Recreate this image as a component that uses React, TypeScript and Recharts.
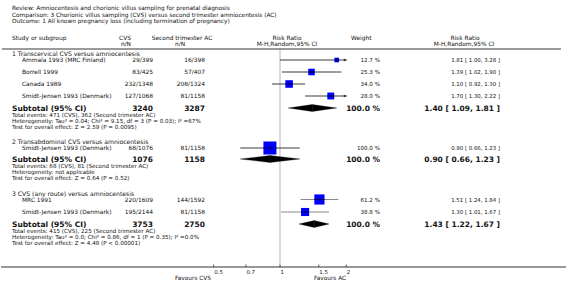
import React from 'react';
import { ScatterChart, Scatter, XAxis, YAxis, ReferenceLine } from 'recharts';

// ---------------- data ----------------
const TITLE_LINES = [
  'Review:  Amniocentesis and chorionic villus sampling for prenatal diagnosis',
  'Comparison:  3 Chorionic villus sampling (CVS) versus second trimester amniocentesis (AC)',
  'Outcome:  1 All known pregnancy loss (including termination of pregnancy)',
];
const GROUP_TITLES = [
  '1 Transcervical CVS versus amniocentesis',
  '2 Transabdominal CVS versus amniocentesis',
  '3 CVS (any route) versus amniocentesis',
];
const STUDY_NAMES = [
  'Ammala 1993 (MRC Finland)',
  'Borrell 1999',
  'Canada 1989',
  'Smidt-Jensen 1993 (Denmark)',
  'Smidt-Jensen 1993 (Denmark)',
  'MRC 1991',
  'Smidt-Jensen 1993 (Denmark)',
];
const STUDY_GROUP = [0, 0, 0, 0, 1, 2, 2];
const CVS_EVENTS = ['29/399', '83/425', '232/1348', '127/1068', '68/1076', '220/1609', '195/2144'];
const AC_EVENTS = ['16/398', '57/407', '208/1324', '81/1158', '81/1158', '144/1592', '81/1158'];
const STUDY_WEIGHT = [12.7, 25.3, 34.0, 28.0, 100.0, 61.2, 38.8];
const STUDY_RR = [1.81, 1.39, 1.1, 1.7, 0.9, 1.51, 1.3];
const STUDY_LOW = [1.0, 1.02, 0.92, 1.3, 0.66, 1.24, 1.01];
const STUDY_HIGH = [3.28, 1.9, 1.3, 2.22, 1.23, 1.84, 1.67];

const SUB_CVS_TOTAL = [3240, 1076, 3753];
const SUB_AC_TOTAL = [3287, 1158, 2750];
const SUB_WEIGHT = [100.0, 100.0, 100.0];
const SUB_RR = [1.4, 0.9, 1.43];
const SUB_LOW = [1.09, 0.66, 1.22];
const SUB_HIGH = [1.81, 1.23, 1.67];
const TOTAL_EVENTS = [
  'Total events: 471 (CVS), 362 (Second trimester AC)',
  'Total events: 68 (CVS), 81 (Second trimester AC)',
  'Total events: 415 (CVS), 225 (Second trimester AC)',
];
const HETEROGENEITY = [
  'Heterogeneity: Tau\u00B2 = 0.04; Chi\u00B2 = 9.15, df = 3 (P = 0.03); I\u00B2 =67%',
  'Heterogeneity: not applicable',
  'Heterogeneity: Tau\u00B2 = 0.0; Chi\u00B2 = 0.86, df = 1 (P = 0.35); I\u00B2 =0.0%',
];
const OVERALL_EFFECT = [
  'Test for overall effect: Z = 2.59 (P = 0.0095)',
  'Test for overall effect: Z = 0.64 (P = 0.52)',
  'Test for overall effect: Z = 4.48 (P < 0.00001)',
];
const X_TICKS = [0.5, 0.7, 1, 1.5, 2];
const X_DOMAIN = [0.5, 2];
const FAVOURS = ['Favours CVS', 'Favours AC'];

// ---------------- layout ----------------
const W = 566;
const H = 297;
const PLOT_LEFT = 213.7;
const PLOT_RIGHT = 346.3;
const PLOT_TOP = 48;
const AXIS_Y = 267;
const STUDY_Y = [60, 72, 84, 96, 148, 199.5, 212];
const SUB_Y = [108, 159, 224];
const TITLE_Y = [8, 14.5, 21];
const GROUP_LINE_COLOR = ['#3a3a3a', '#3a3a3a', '#8a8a8a'];
const FONT = '"DejaVu Sans", Verdana, sans-serif';
const FS = 5.9;
const FS_STAT = 5.6;
const FS_BOLD = 7.5;
const X_TEXT = 12;
const X_STUDY = 22;
const X_CVS = 153;
const X_AC = 205;
const X_WEIGHT = 380;
const X_CI = 500;

const fmtCI = (rr: number, lo: number, hi: number) =>
  `${rr.toFixed(2)} [ ${lo.toFixed(2)}, ${hi.toFixed(2)} ]`;
const fmtW = (w: number) => `${w.toFixed(1)} %`;

const studyData = STUDY_NAMES.map((_, i) => ({
  rr: STUDY_RR[i],
  y: STUDY_Y[i],
  w: STUDY_WEIGHT[i],
}));

const Square = (props: any) => {
  const { cx, cy, payload } = props;
  const s = 1.3 * Math.sqrt(payload.w);
  return (
    <g>
      <rect x={cx - s / 2} y={cy - s / 2} width={s} height={s} fill="#0000ff" />
      <line x1={cx - s / 2} x2={cx + s / 2} y1={cy} y2={cy} stroke="#000" strokeWidth={0.6} />
      <line x1={cx} x2={cx} y1={cy - 1.5} y2={cy + 1.5} stroke="#000" strokeWidth={0.6} />
    </g>
  );
};

const ciShape = (color: string, arrowRight: boolean, arrowLeft: boolean) => (p: any) => {
  const { x1, y1, x2, y2 } = p;
  return (
    <g>
      <line x1={x1} y1={y1} x2={x2} y2={y2} stroke={color} strokeWidth={1} />
      {arrowRight && (
        <path d={`M${x2 + 1},${y2} L${x2 - 2.5},${y2 - 1.6} L${x2 - 2.5},${y2 + 1.6} Z`} fill={color} />
      )}
      {arrowLeft && (
        <path d={`M${x1 - 1},${y1} L${x1 + 2.5},${y1 - 1.6} L${x1 + 2.5},${y1 + 1.6} Z`} fill={color} />
      )}
    </g>
  );
};

const halfDiamond = (side: 'left' | 'right') => (p: any) => {
  const { x1, y1, x2 } = p;
  const h = 3.5;
  const d =
    side === 'left'
      ? `M${x1},${y1} L${x2},${y1 - h} L${x2},${y1 + h} Z`
      : `M${x1},${y1 - h} L${x2},${y1} L${x1},${y1 + h} Z`;
  return <path d={d} fill="#000" stroke="#000" strokeWidth={0.3} />;
};

const AxisTick = (props: any) => {
  const { x, y, payload } = props;
  return (
    <g>
      <line x1={x} x2={x} y1={y - 2.5} y2={y} stroke="#333" strokeWidth={0.8} />
      <text x={x + 0.5} y={y + 5} fontSize={5.5} fontFamily={FONT} fill="#222" textAnchor="start" dominantBaseline="central">
        {String(payload.value)}
      </text>
    </g>
  );
};

const T = (props: any) => {
  const { x, y, children, anchor = 'start', size = FS, bold = false } = props;
  return (
    <text
      x={x}
      y={y}
      fontSize={size}
      fontWeight={bold ? 'bold' : 'normal'}
      fontFamily={FONT}
      fill="#111"
      textAnchor={anchor}
      dominantBaseline="central"
    >
      {children}
    </text>
  );
};

export default function App() {
  return (
    <div style={{ position: 'absolute', left: 0, top: 0, width: W, height: H, background: '#fff' }}>
      <ScatterChart
        width={W}
        height={H}
        margin={{ top: PLOT_TOP, right: W - PLOT_RIGHT, bottom: 0, left: PLOT_LEFT }}
      >
        <XAxis
          type="number"
          dataKey="rr"
          scale="log"
          domain={X_DOMAIN}
          ticks={X_TICKS}
          allowDataOverflow
          interval={0}
          axisLine={false}
          tickLine={false}
          tickSize={0}
          tickMargin={0}
          height={H - AXIS_Y}
          tick={(p: any) => <AxisTick {...p} />}
        />
        <YAxis type="number" dataKey="y" domain={[PLOT_TOP, AXIS_Y]} reversed hide allowDataOverflow />
        <ReferenceLine x={1} stroke="#d2d2d2" strokeWidth={1.6} ifOverflow="visible" />
        {STUDY_NAMES.map((_, i) => (
          <ReferenceLine
            key={'ci' + i}
            ifOverflow="visible"
            segment={[
              { x: Math.max(STUDY_LOW[i], X_DOMAIN[0]), y: STUDY_Y[i] },
              { x: Math.min(STUDY_HIGH[i], X_DOMAIN[1]), y: STUDY_Y[i] },
            ]}
            shape={ciShape(
              GROUP_LINE_COLOR[STUDY_GROUP[i]],
              STUDY_HIGH[i] > X_DOMAIN[1],
              STUDY_LOW[i] < X_DOMAIN[0]
            )}
          />
        ))}
        {SUB_RR.map((rr, g) => (
          <ReferenceLine
            key={'dl' + g}
            ifOverflow="visible"
            segment={[
              { x: SUB_LOW[g], y: SUB_Y[g] },
              { x: rr, y: SUB_Y[g] },
            ]}
            shape={halfDiamond('left')}
          />
        ))}
        {SUB_RR.map((rr, g) => (
          <ReferenceLine
            key={'dr' + g}
            ifOverflow="visible"
            segment={[
              { x: rr, y: SUB_Y[g] },
              { x: SUB_HIGH[g], y: SUB_Y[g] },
            ]}
            shape={halfDiamond('right')}
          />
        ))}
        <Scatter data={studyData} isAnimationActive={false} shape={(p: any) => <Square {...p} />} />
      </ScatterChart>

      <svg
        width={W}
        height={H}
        style={{ position: 'absolute', left: 0, top: 0, pointerEvents: 'none' }}
      >
        {TITLE_LINES.map((t, i) => (
          <T key={'tl' + i} x={X_TEXT} y={TITLE_Y[i]} size={5.8}>
            {t}
          </T>
        ))}
        <T x={X_TEXT} y={37.5}>Study or subgroup</T>
        <T x={131} y={37.5} anchor="end">CVS</T>
        <T x={131} y={43.5} anchor="end">n/N</T>
        <T x={182} y={37.5} anchor="middle">Second trimester AC</T>
        <T x={180} y={43.5} anchor="middle">n/N</T>
        <T x={287} y={37.5} anchor="middle">Risk Ratio</T>
        <T x={287} y={43.5} anchor="middle">M-H,Random,95% CI</T>
        <T x={351} y={37.5}>Weight</T>
        <T x={465} y={37.5} anchor="middle">Risk Ratio</T>
        <T x={464} y={43.5} anchor="middle">M-H,Random,95% CI</T>
        <line x1={2} x2={561} y1={49} y2={49} stroke="#7a7a7a" strokeWidth={1.6} />

        {GROUP_TITLES.map((t, g) => {
          const firstIdx = STUDY_GROUP.indexOf(g);
          return (
            <T key={'gt' + g} x={X_TEXT} y={STUDY_Y[firstIdx] - 6.3} size={6.1}>
              {t}
            </T>
          );
        })}

        {STUDY_NAMES.map((n, i) => (
          <g key={'row' + i}>
            <T x={X_STUDY} y={STUDY_Y[i]}>{n}</T>
            <T x={X_CVS} y={STUDY_Y[i]} anchor="end">{CVS_EVENTS[i]}</T>
            <T x={X_AC} y={STUDY_Y[i]} anchor="end">{AC_EVENTS[i]}</T>
            <T x={X_WEIGHT} y={STUDY_Y[i]} anchor="end" size={5.6}>{fmtW(STUDY_WEIGHT[i])}</T>
            <T x={X_CI} y={STUDY_Y[i]} anchor="end" size={5.4}>
              {fmtCI(STUDY_RR[i], STUDY_LOW[i], STUDY_HIGH[i])}
            </T>
          </g>
        ))}

        {SUB_RR.map((rr, g) => (
          <g key={'sub' + g}>
            <T x={X_TEXT} y={SUB_Y[g]} bold size={FS_BOLD}>Subtotal (95% CI)</T>
            <T x={X_CVS} y={SUB_Y[g]} anchor="end" bold size={FS_BOLD}>{SUB_CVS_TOTAL[g]}</T>
            <T x={X_AC} y={SUB_Y[g]} anchor="end" bold size={FS_BOLD}>{SUB_AC_TOTAL[g]}</T>
            <T x={X_WEIGHT} y={SUB_Y[g]} anchor="end" bold size={FS_BOLD}>{fmtW(SUB_WEIGHT[g])}</T>
            <T x={X_CI} y={SUB_Y[g]} anchor="end" bold size={FS_BOLD}>
              {fmtCI(rr, SUB_LOW[g], SUB_HIGH[g])}
            </T>
            <T x={X_TEXT} y={SUB_Y[g] + 7} size={FS_STAT}>{TOTAL_EVENTS[g]}</T>
            <T x={X_TEXT} y={SUB_Y[g] + 13.2} size={FS_STAT}>{HETEROGENEITY[g]}</T>
            <T x={X_TEXT} y={SUB_Y[g] + 19.4} size={FS_STAT}>{OVERALL_EFFECT[g]}</T>
          </g>
        ))}

        <line x1={1} x2={W} y1={AXIS_Y} y2={AXIS_Y} stroke="#333" strokeWidth={1} />
        <T x={193} y={278} anchor="middle" size={5.8}>{FAVOURS[0]}</T>
        <T x={330} y={278} anchor="middle" size={5.8}>{FAVOURS[1]}</T>
      </svg>
    </div>
  );
}
